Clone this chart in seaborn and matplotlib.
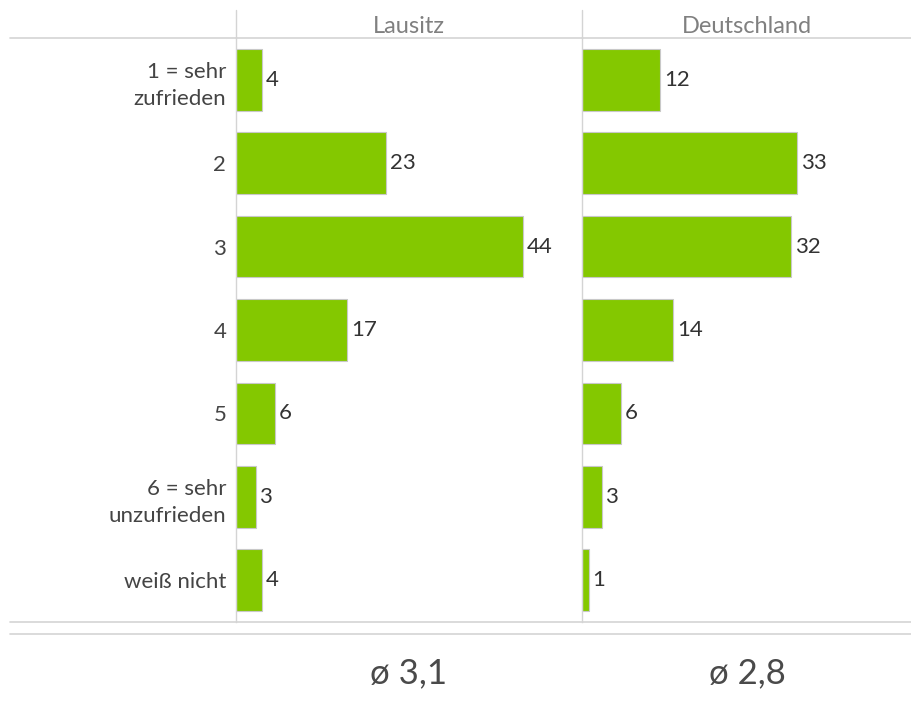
import seaborn as sns
import pandas as pd
import matplotlib.pyplot as plt
from matplotlib.lines import Line2D

categories = ["1 = sehr\nzufrieden", "2", "3", "4", "5", "6 = sehr\nunzufrieden", "weiß nicht"]
lausitz = [4, 23, 44, 17, 6, 3, 4]
deutschland = [12, 33, 32, 14, 6, 3, 1]
regions = ["Lausitz", "Deutschland"]
averages = ["ø 3,1", "ø 2,8"]

GREEN = "#84c800"
GRID = "#d4d4d4"

sns.set_theme(style="white")
plt.rcParams["font.family"] = ["Lato", "DejaVu Sans"]

df = pd.DataFrame({"Kategorie": categories, "Lausitz": lausitz, "Deutschland": deutschland})

fig = plt.figure(figsize=(9.12, 7.04), dpi=100)
ax1 = fig.add_axes([236 / 912, 1 - 622 / 704, 346 / 912, 584 / 704])
ax2 = fig.add_axes([582 / 912, 1 - 622 / 704, 330 / 912, 584 / 704])

for ax, region, avg in zip([ax1, ax2], regions, averages):
    sns.barplot(data=df, x=region, y="Kategorie", color=GREEN, width=0.74,
                edgecolor="#c8c8c8", linewidth=0.8, saturation=1, ax=ax)
    ax.set_xlim(0, ax.get_position().width * 912 / 6.52)
    for i, v in enumerate(df[region]):
        ax.text(v + 0.6, i, str(v), va="center", ha="left", fontsize=16, color="#333333")
    ax.set_xticks([])
    ax.set_xlabel("")
    ax.set_ylabel("")
    for s in ["top", "right", "bottom"]:
        ax.spines[s].set_visible(False)
    ax.spines["left"].set_color(GRID)
    ax.spines["left"].set_linewidth(1)
    ax.text(0.5, 1.02, region, transform=ax.transAxes, ha="center", va="center",
            fontsize=17, color="#808080")
    ax.text(0.5, -0.088, avg, transform=ax.transAxes, ha="center", va="center",
            fontsize=25, color="#4a4a4a")

ax1.tick_params(axis="y", length=0, labelsize=16, labelcolor="#444444", pad=7)
for lab in ax1.get_yticklabels():
    lab.set_linespacing(1.45)
ax2.set_yticks([])

# header and footer rules
fig.add_artist(Line2D([10 / 912, 1], [1 - 38 / 704] * 2, color=GRID, lw=1.2))
fig.add_artist(Line2D([10 / 912, 1], [1 - 622 / 704] * 2, color=GRID, lw=1.2))
fig.add_artist(Line2D([10 / 912, 1], [1 - 634 / 704] * 2, color=GRID, lw=1.2))
for x in [236, 582]:
    fig.add_artist(Line2D([x / 912] * 2, [1 - 10 / 704, 1 - 38 / 704], color=GRID, lw=1))

fig.savefig("out.png", dpi=100)
